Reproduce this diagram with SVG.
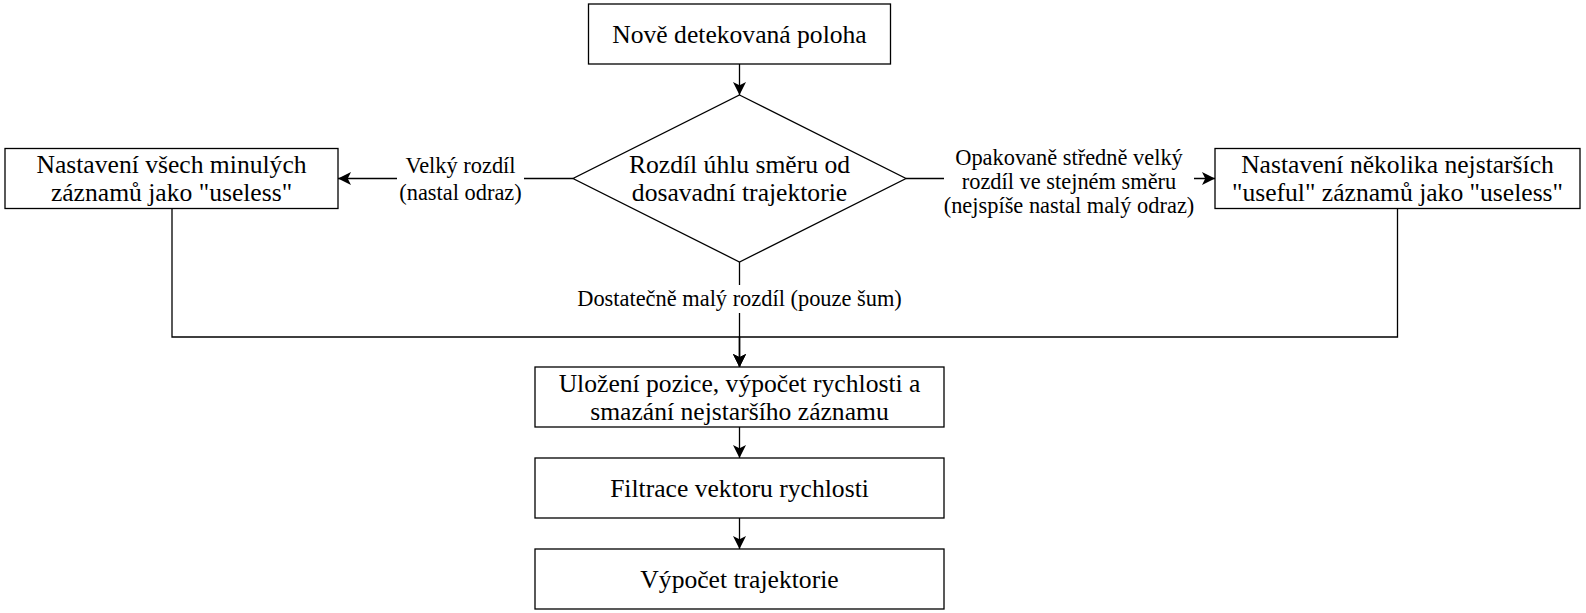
<svg xmlns="http://www.w3.org/2000/svg" width="1586" height="613" viewBox="0 0 1586 613">
  <style>
    .box { fill: #ffffff; stroke: #000000; stroke-width: 1.3; }
    .edge { fill: none; stroke: #000000; stroke-width: 1.3; }
    .nt { font-family: "Liberation Serif", "Times New Roman", serif; font-size: 25.6px; fill: #000000; text-anchor: middle; }
    .lt { font-family: "Liberation Serif", "Times New Roman", serif; font-size: 22.4px; fill: #000000; text-anchor: middle; }
    .lbg { fill: #ffffff; stroke: none; }
  </style>
  <defs>
    <marker id="arrow" markerUnits="userSpaceOnUse" markerWidth="14" markerHeight="14" refX="13" refY="6.5" orient="auto" viewBox="0 0 14 14">
      <path d="M0,0 L13,6.5 L0,13 L3.25,6.5 Z" fill="#000000" stroke="none"/>
    </marker>
  </defs>
  <rect width="1586" height="613" fill="#ffffff"/>

  <g id="connectors">
    <path class="edge" d="M739.5,64 L739.5,95" marker-end="url(#arrow)"/>
    <path class="edge" d="M573,178.5 L338,178.5" marker-end="url(#arrow)"/>
    <path class="edge" d="M906,178.5 L1215,178.5" marker-end="url(#arrow)"/>
    <path class="edge" d="M739.5,262 L739.5,367" marker-end="url(#arrow)"/>
    <path class="edge" d="M172,208 L172,337 L739.5,337 L739.5,367" marker-end="url(#arrow)"/>
    <path class="edge" d="M1397.5,208 L1397.5,337 L739.5,337 L739.5,367" marker-end="url(#arrow)"/>
    <path class="edge" d="M739.5,427 L739.5,458" marker-end="url(#arrow)"/>
    <path class="edge" d="M739.5,518 L739.5,549" marker-end="url(#arrow)"/>
    <g id="label-left">
      <rect class="lbg" x="397" y="152" width="127" height="54"/>
      <text class="lt" x="460.5" y="173">Velký rozdíl</text>
      <text class="lt" x="460.5" y="200">(nastal odraz)</text>
    </g>
    <g id="label-right">
      <rect class="lbg" x="944" y="143" width="250" height="76"/>
      <text class="lt" x="1069" y="165">Opakovaně středně velký</text>
      <text class="lt" x="1069" y="189">rozdíl ve stejném směru</text>
      <text class="lt" x="1069" y="213">(nejspíše nastal malý odraz)</text>
    </g>
    <g id="label-bottom">
      <rect class="lbg" x="574" y="285" width="331" height="28"/>
      <text class="lt" x="739.5" y="306">Dostatečně malý rozdíl (pouze šum)</text>
    </g>
  </g>

  <g id="node-start">
    <rect class="box" x="588.5" y="4" width="302" height="60"/>
    <text class="nt" x="739.5" y="42.8">Nově detekovaná poloha</text>
  </g>
  <g id="node-decision">
    <polygon class="box" points="739.5,95 906,178.5 739.5,262 573,178.5"/>
    <text class="nt" x="739.5" y="173.3">Rozdíl úhlu směru od</text>
    <text class="nt" x="739.5" y="201.3">dosavadní trajektorie</text>
  </g>
  <g id="node-left">
    <rect class="box" x="5" y="148.5" width="333" height="60"/>
    <text class="nt" x="171.5" y="173.3">Nastavení všech minulých</text>
    <text class="nt" x="171.5" y="201.3">záznamů jako "useless"</text>
  </g>
  <g id="node-right">
    <rect class="box" x="1215" y="148.5" width="365" height="60"/>
    <text class="nt" x="1397.5" y="173.3">Nastavení několika nejstarších</text>
    <text class="nt" x="1397.5" y="201.3">"useful" záznamů jako "useless"</text>
  </g>
  <g id="node-save">
    <rect class="box" x="535" y="367" width="409" height="60"/>
    <text class="nt" x="739.5" y="391.8">Uložení pozice, výpočet rychlosti a</text>
    <text class="nt" x="739.5" y="419.8">smazání nejstaršího záznamu</text>
  </g>
  <g id="node-filter">
    <rect class="box" x="535" y="458" width="409" height="60"/>
    <text class="nt" x="739.5" y="496.8">Filtrace vektoru rychlosti</text>
  </g>
  <g id="node-trajectory">
    <rect class="box" x="535" y="549" width="409" height="60"/>
    <text class="nt" x="739.5" y="587.8">Výpočet trajektorie</text>
  </g>
</svg>
